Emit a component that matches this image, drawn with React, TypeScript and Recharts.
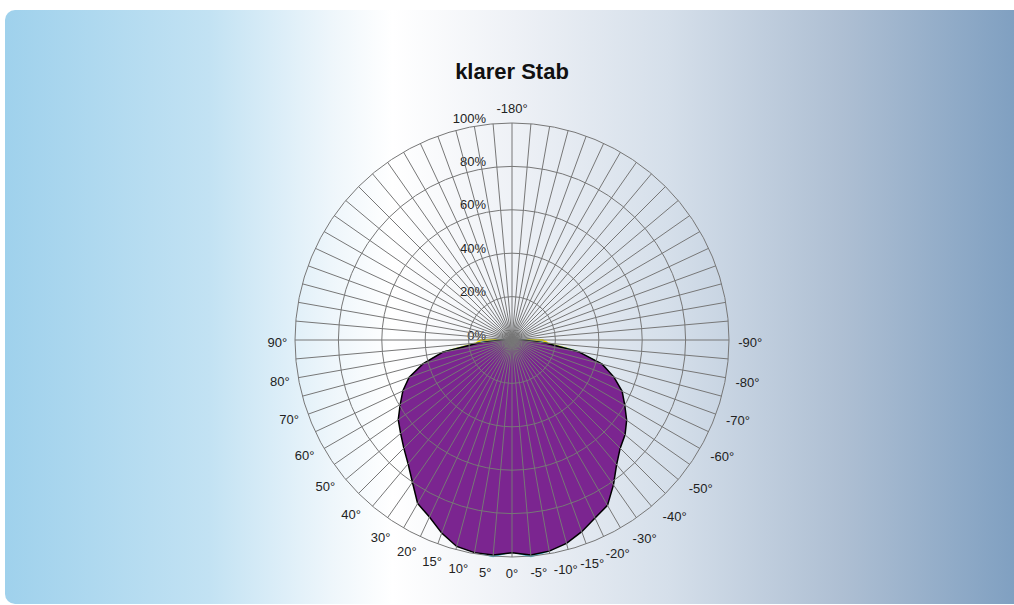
import React from "react";
import { RadarChart, Radar, PolarGrid, PolarAngleAxis, PolarRadiusAxis } from "recharts";

// angle categories, clockwise from the top (-180°)
const angles = [
  -180, -175, -170, -165, -160, -155, -150, -145, -140, -135, -130, -125,
  -120, -115, -110, -105, -100, -95, -90, -85, -80, -75, -70, -65,
  -60, -55, -50, -45, -40, -35, -30, -25, -20, -15, -10, -5,
  0, 5, 10, 15, 20, 25, 30, 35, 40, 45, 50, 55,
  60, 65, 70, 75, 80, 85, 90, 95, 100, 105, 110, 115,
  120, 125, 130, 135, 140, 145, 150, 155, 160, 165, 170, 175,
];

const labelledAngles = [
  -180, -90, -80, -70, -60, -50, -40, -30, -20, -15, -10, -5,
  0, 5, 10, 15, 20, 30, 40, 50, 60, 70, 80, 90,
];

// main curve (purple)
const klarerStab = [
  0, 0, 0, 0, 0, 0, 0, 0, 0, 0, 0, 0,
  0, 0, 0, 0, 0, 0, 5, 15, 31, 43, 50, 56,
  60, 64.5, 68, 70.5, 75, 81.5, 88, 90.5, 94, 97, 98.8, 99.4,
  98, 99.5, 99.5, 98.5, 94.7, 90, 87, 80, 74.5, 70.5, 67, 64,
  59.5, 55.5, 50.5, 42.5, 32.5, 15, 5, 0, 0, 0, 0, 0,
  0, 0, 0, 0, 0, 0, 0, 0, 0, 0, 0, 0,
];

// secondary curves, mostly hidden behind the main one
const kurveGelb = [
  0, 0, 0, 0, 0, 0, 0, 0, 0, 0, 0, 0,
  0, 0, 0, 0, 0, 0, 14, 16.5, 30, 42, 49, 55,
  59, 63.5, 67, 69.5, 74, 80.5, 87, 89.5, 93, 96, 97.8, 98.4,
  97, 98.5, 98.5, 97.5, 93.7, 89, 86, 79, 73.5, 69.5, 66, 63,
  58.5, 54.5, 49.5, 41.5, 31.5, 16.5, 14, 0, 0, 0, 0, 0,
  0, 0, 0, 0, 0, 0, 0, 0, 0, 0, 0, 0,
];

const kurveCyan = [
  0, 0, 0, 0, 0, 0, 0, 0, 0, 0, 0, 0,
  0, 0, 0, 0, 0, 0, 4, 14, 30, 42, 49, 55,
  59, 63.5, 67, 69.5, 74, 80.5, 87, 89.5, 93, 96, 98.5, 100,
  97.5, 100, 99, 97.5, 93.7, 89, 86, 79, 73.5, 69.5, 66, 63,
  58.5, 54.5, 49.5, 41.5, 31.5, 14, 4, 0, 0, 0, 0, 0,
  0, 0, 0, 0, 0, 0, 0, 0, 0, 0, 0, 0,
];

const radiusTicks = [0, 20, 40, 60, 80, 100];

const data = angles.map((a, i) => ({
  angle: a,
  main: klarerStab[i],
  gelb: kurveGelb[i],
  cyan: kurveCyan[i],
}));

const CX = 512;
const CY = 340;
const R = 217;
const FONT = "'Liberation Sans', Arial, Helvetica, sans-serif";

// labels near the bottom are fanned out a little so they do not collide
function spread(a: number) {
  if (a <= 20) return a * 1.33;
  if (a >= 90) return a;
  return a + 5 * Math.pow((90 - a) / 70, 1.5);
}

function AngleTick(props: any) {
  const { payload } = props;
  const v = payload.value;
  if (!labelledAngles.includes(v)) return <g />;
  const cx = props.cx ?? CX;
  const cy = props.cy ?? CY;
  const side = v > 0 ? -1 : 1;
  const d = (spread(Math.abs(v)) * Math.PI) / 180;
  const label = `${v}°`;
  const halfW = (label.length * 7.2 - 2.5) / 2;
  const halfH = 6;
  const r = R + 8 + Math.abs(Math.sin(d)) * halfW + Math.abs(Math.cos(d)) * halfH;
  const x = cx + side * r * Math.sin(d);
  const y = cy + r * Math.cos(d) + (Math.cos(d) >= -0.01 ? 2 : -1);
  return (
    <text x={x} y={y} dy="0.35em" textAnchor="middle" fontSize={13} fill="#222" fontFamily={FONT}>
      {label}
    </text>
  );
}

function RadiusTick(props: any) {
  const { x, y, payload } = props;
  return (
    <text
      x={x - 26}
      y={y - 5}
      dy="0.35em"
      textAnchor="end"
      fontSize={13}
      fill="#222"
      fontFamily={FONT}
    >
      {payload.value}%
    </text>
  );
}

export default function App() {
  return (
    <div style={{ position: "absolute", left: 0, top: 0, width: 1014, height: 605, overflow: "hidden" }}>
      <div
        style={{
          position: "absolute",
          left: 5,
          top: 10,
          width: 1020,
          height: 594,
          borderRadius: 10,
          background:
            "linear-gradient(to right, #9fd1ec 0%, #c2e2f3 20%, #eef6fb 32%, #ffffff 38%, #eef1f6 50%, #d5dfea 65%, #aebfd3 82%, #7d9ec0 100%)",
        }}
      />
      <div
        style={{
          position: "absolute",
          left: 0,
          top: 59,
          width: 1024,
          textAlign: "center",
          fontFamily: FONT,
          fontWeight: "bold",
          fontSize: 22,
          color: "#111",
        }}
      >
        klarer Stab
      </div>
      <div style={{ position: "absolute", left: 0, top: 0 }}>
        <RadarChart width={1014} height={605} data={data} cx={CX} cy={CY} outerRadius={R} startAngle={90} endAngle={-270}>
          <PolarAngleAxis dataKey="angle" type="category" tickLine={false} axisLine={false} tick={<AngleTick />} />
          <PolarRadiusAxis
            angle={90}
            domain={[0, 100]}
            ticks={radiusTicks}
            axisLine={false}
            tickLine={false}
            tick={<RadiusTick />}
          />
          <Radar dataKey="gelb" stroke="#f2e600" strokeWidth={2} fill="none" dot={false} isAnimationActive={false} />
          <Radar dataKey="cyan" stroke="#39c3d9" strokeWidth={2} fill="none" dot={false} isAnimationActive={false} />
          <Radar
            dataKey="main"
            stroke="#000"
            strokeWidth={1.5}
            fill="#7b2590"
            fillOpacity={1}
            dot={false}
            isAnimationActive={false}
          />
          <PolarGrid gridType="circle" stroke="#777" strokeOpacity={1} zIndex={1000} />
        </RadarChart>
      </div>
    </div>
  );
}
